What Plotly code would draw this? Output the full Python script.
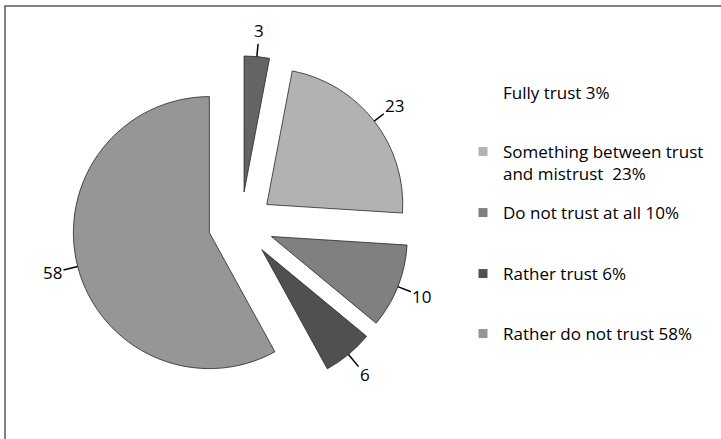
import math
import plotly.graph_objects as go

# data
categories = ["Fully trust", "Something between trust<br>and mistrust ", "Do not trust at all",
              "Rather trust", "Rather do not trust"]
values = [3, 23, 10, 6, 58]
slice_colors = ["#646464", "#b2b2b2", "#808080", "#505050", "#969696"]
legend_marker_shown = [False, True, True, True, True]

W, H = 721, 439
FONT = "Open Sans, sans-serif"

# pie geometry in pixels (margins are 0, so paper == pixels)
CX, CY, R, PULL = 241, 224.5, 136, 0.24
half = R * (1 + PULL)

fig = go.Figure()

fig.add_trace(go.Pie(
    values=values, labels=categories, sort=False, direction="clockwise", rotation=0,
    pull=[PULL] * len(values), textinfo="none", hoverinfo="label+value",
    marker=dict(colors=slice_colors, line=dict(color="#262626", width=0.8)),
    domain=dict(x=[(CX - half) / W, (CX + half) / W], y=[1 - (CY + half) / H, 1 - (CY - half) / H]),
    showlegend=False,
))

# value labels with leader lines, placed at each slice's mid angle
total = sum(values)
cum = 0
annotations = []
for v in values:
    mid = (cum + v / 2) / total * 2 * math.pi
    cum += v
    dx, dy = math.sin(mid), -math.cos(mid)
    px, py = CX + dx * half, CY + dy * half
    annotations.append(dict(
        x=px / W, y=1 - py / H, xref="paper", yref="paper", text=str(v),
        showarrow=True, arrowhead=0, arrowwidth=1.5, arrowcolor="black",
        ax=dx * 26, ay=dy * 26, font=dict(family=FONT, size=17, color="black"),
    ))

# legend, one small legend per entry so the rows can be spaced like the original
legend_tops = [75, 134, 195, 256, 316]
layout_legends = {}
for i, (c, v) in enumerate(zip(categories, values)):
    key = "legend" if i == 0 else f"legend{i + 1}"
    fig.add_trace(go.Scatter(
        x=[None], y=[None], mode="markers", name=f"{c} {v}%", legend=key,
        marker=dict(symbol="square", size=9,
                    color=slice_colors[i] if legend_marker_shown[i] else "white"),
    ))
    layout_legends[key] = dict(
        x=463 / W, y=1 - legend_tops[i] / H, xanchor="left", yanchor="top",
        font=dict(family=FONT, size=17, color="black"), bgcolor="rgba(0,0,0,0)", valign="top",
    )

fig.update_layout(
    width=W, height=H, margin=dict(l=0, r=0, t=0, b=0),
    paper_bgcolor="white", plot_bgcolor="white",
    xaxis=dict(visible=False), yaxis=dict(visible=False),
    annotations=annotations,
    shapes=[dict(type="rect", xref="paper", yref="paper", x0=5 / W, x1=1.1, y0=-0.1, y1=1 - 6 / H,
                 line=dict(color="#595959", width=1.5))],
    **layout_legends,
)

# drop the browser's default body margin so the figure sits at the page corner
fig.write_html("out.html", config={"displayModeBar": False},
               post_script="document.body.style.margin = '0';")
